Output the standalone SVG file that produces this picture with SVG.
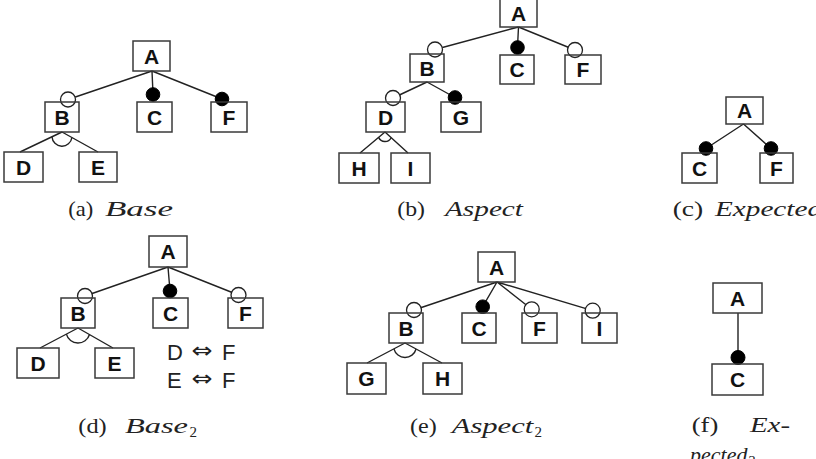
<svg xmlns="http://www.w3.org/2000/svg" width="816" height="459" viewBox="0 0 816 459">
<style>
.box{fill:none;stroke:#3a3a3a;stroke-width:1.5}
.lbl{font-family:"Liberation Sans",Arial,sans-serif;font-weight:bold;font-size:21px;text-anchor:middle;fill:#111}
.edge{stroke:#222;stroke-width:1.4;fill:none}
.opt{fill:#fff;stroke:#222;stroke-width:1.3}
.man{fill:#000;stroke:#000;stroke-width:1}
.cap{font-family:"Liberation Serif","Times New Roman",serif;font-size:22px;fill:#222}
.it{font-style:italic}
.sub{font-size:15px}
.cst{font-family:"Liberation Sans","DejaVu Sans",sans-serif;font-size:22px;fill:#222}
.arr{font-family:"DejaVu Sans",sans-serif;font-size:22px;fill:#222}
</style>
<rect x="0" y="0" width="816" height="459" fill="#fff"/>

<g id="connectors">
  <!-- (a) -->
  <path class="edge" d="M152,71 L68,99.5 M152,71 L153,94 M152,71 L222,99 M62,132 L20,152 M62,132 L98,152"/>
  <path class="edge" d="M52,136.75 A10,10 0 0 0 71.9,137.5"/>
  <circle class="opt" cx="68" cy="99.5" r="7.5"/>
  <circle class="man" cx="153" cy="94.5" r="6.8"/>
  <circle class="man" cx="222" cy="99" r="6.8"/>
  <!-- (b) -->
  <path class="edge" d="M518.5,27 L435,49.5 M518.5,27 L517.5,47 M518.5,27 L575,50 M427,82 L393,98 M427,82 L455,97.5 M385,132 L360,153 M385,132 L408,153"/>
  <path class="edge" d="M378.6,137.4 A7,7 0 0 0 391.2,137.7"/>
  <circle class="opt" cx="435" cy="49.5" r="7.5"/>
  <circle class="man" cx="517.5" cy="47.5" r="6.8"/>
  <circle class="opt" cx="575" cy="50" r="7.5"/>
  <circle class="opt" cx="393" cy="98" r="7.5"/>
  <circle class="man" cx="455" cy="97.5" r="6.8"/>
  <!-- (c) -->
  <path class="edge" d="M743.5,124 L706,148.5 M743.5,124 L771,148.5"/>
  <circle class="man" cx="706" cy="148.5" r="6.8"/>
  <circle class="man" cx="771" cy="148.5" r="6.8"/>
  <!-- (d) -->
  <path class="edge" d="M168,267 L85,296 M168,267 L170,291 M168,267 L238.5,295 M78,328 L40,348 M78,328 L113,348"/>
  <path class="edge" d="M66.4,334.1 A12,12 0 0 0 89.5,334.5"/>
  <circle class="opt" cx="85" cy="296" r="7.5"/>
  <circle class="man" cx="170" cy="291" r="6.8"/>
  <circle class="opt" cx="238.5" cy="295" r="7.5"/>
  <!-- (e) -->
  <path class="edge" d="M497,282 L414,310 M497,282 L482.7,306.7 M497,282 L531.7,309.3 M497,282 L592.7,310.7 M405,343 L367,363 M405,343 L442,363"/>
  <path class="edge" d="M393.9,348.9 A11.5,11.5 0 0 0 416.1,349"/>
  <circle class="opt" cx="414" cy="310" r="7.5"/>
  <circle class="man" cx="482.7" cy="306.7" r="6.8"/>
  <circle class="opt" cx="531.7" cy="309.3" r="7.5"/>
  <circle class="opt" cx="592.7" cy="310.7" r="7.5"/>
  <!-- (f) -->
  <path class="edge" d="M738,313 L738,357"/>
  <circle class="man" cx="738" cy="357.5" r="7"/>
</g>

<!-- (a) Base -->
<g id="a-A"><rect class="box" x="133" y="41" width="37" height="30"/><text class="lbl" x="151.5" y="63.5">A</text></g>
<g id="a-B"><rect class="box" x="45" y="102" width="34" height="30"/><text class="lbl" x="62" y="124.5">B</text></g>
<g id="a-C"><rect class="box" x="137" y="102" width="35" height="30"/><text class="lbl" x="154.5" y="124.5">C</text></g>
<g id="a-F"><rect class="box" x="211" y="102" width="36" height="30"/><text class="lbl" x="229" y="124.5">F</text></g>
<g id="a-D"><rect class="box" x="4" y="152" width="39" height="30"/><text class="lbl" x="23.5" y="174.5">D</text></g>
<g id="a-E"><rect class="box" x="79" y="152" width="38" height="30"/><text class="lbl" x="98" y="174.5">E</text></g>

<!-- (b) Aspect -->
<g id="b-A"><rect class="box" x="500" y="-1" width="37" height="28"/><text class="lbl" x="518.5" y="20.5">A</text></g>
<g id="b-B"><rect class="box" x="410" y="54" width="34" height="28"/><text class="lbl" x="427" y="75.5">B</text></g>
<g id="b-C"><rect class="box" x="500" y="55" width="34" height="29"/><text class="lbl" x="517" y="77">C</text></g>
<g id="b-F"><rect class="box" x="565" y="55" width="36" height="29"/><text class="lbl" x="583" y="77">F</text></g>
<g id="b-D"><rect class="box" x="366" y="102" width="39" height="30"/><text class="lbl" x="385.5" y="124.5">D</text></g>
<g id="b-G"><rect class="box" x="441" y="102" width="40" height="30"/><text class="lbl" x="461" y="124.5">G</text></g>
<g id="b-H"><rect class="box" x="339" y="153" width="40" height="30"/><text class="lbl" x="359" y="175.5">H</text></g>
<g id="b-I"><rect class="box" x="391" y="153" width="39" height="30"/><text class="lbl" x="410.5" y="175.5">I</text></g>

<!-- (c) Expected -->
<g id="c-A"><rect class="box" x="726" y="97" width="37" height="27"/><text class="lbl" x="744.5" y="118">A</text></g>
<g id="c-C"><rect class="box" x="682" y="153" width="35" height="30"/><text class="lbl" x="699.5" y="175.5">C</text></g>
<g id="c-F"><rect class="box" x="760" y="153" width="33" height="30"/><text class="lbl" x="776.5" y="175.5">F</text></g>

<!-- (d) Base2 -->
<g id="d-A"><rect class="box" x="149" y="236" width="38" height="31"/><text class="lbl" x="168" y="259">A</text></g>
<g id="d-B"><rect class="box" x="61" y="298" width="34" height="30"/><text class="lbl" x="78" y="320.5">B</text></g>
<g id="d-C"><rect class="box" x="153" y="298" width="35" height="30"/><text class="lbl" x="170.5" y="320.5">C</text></g>
<g id="d-F"><rect class="box" x="228" y="298" width="35" height="30"/><text class="lbl" x="245.5" y="320.5">F</text></g>
<g id="d-D"><rect class="box" x="17" y="348" width="42" height="30"/><text class="lbl" x="38" y="370.5">D</text></g>
<g id="d-E"><rect class="box" x="95" y="348" width="39" height="30"/><text class="lbl" x="114.5" y="370.5">E</text></g>
<g id="d-constraints">
  <text class="cst" x="167" y="360">D</text>
  <text class="arr" x="191.5" y="358" textLength="21" lengthAdjust="spacingAndGlyphs">⇔</text>
  <text class="cst" x="222" y="360">F</text>
  <text class="cst" x="167" y="388">E</text>
  <text class="arr" x="191.5" y="386" textLength="21" lengthAdjust="spacingAndGlyphs">⇔</text>
  <text class="cst" x="222" y="388">F</text>
</g>

<!-- (e) Aspect2 -->
<g id="e-A"><rect class="box" x="478" y="252" width="37" height="30"/><text class="lbl" x="496.5" y="274.5">A</text></g>
<g id="e-B"><rect class="box" x="389" y="313" width="34" height="30"/><text class="lbl" x="406" y="335.5">B</text></g>
<g id="e-C"><rect class="box" x="462" y="313" width="34" height="30"/><text class="lbl" x="479" y="335.5">C</text></g>
<g id="e-F"><rect class="box" x="522" y="313" width="35" height="30"/><text class="lbl" x="539.5" y="335.5">F</text></g>
<g id="e-I"><rect class="box" x="582" y="313" width="35" height="30"/><text class="lbl" x="599.5" y="335.5">I</text></g>
<g id="e-G"><rect class="box" x="347" y="363" width="39" height="31"/><text class="lbl" x="366.5" y="386">G</text></g>
<g id="e-H"><rect class="box" x="423" y="363" width="39" height="31"/><text class="lbl" x="442.5" y="386">H</text></g>

<!-- (f) Expected2 -->
<g id="f-A"><rect class="box" x="713" y="283" width="49" height="30"/><text class="lbl" x="737.5" y="305.5">A</text></g>
<g id="f-C"><rect class="box" x="712" y="364" width="51" height="31"/><text class="lbl" x="737.5" y="387">C</text></g>

<g id="captions">
  <text class="cap" x="68.3" y="216" textLength="25" lengthAdjust="spacingAndGlyphs">(a)</text>
  <text class="cap it" x="105" y="216" textLength="68" lengthAdjust="spacingAndGlyphs">Base</text>
  <text class="cap" x="397.3" y="216" textLength="27.7" lengthAdjust="spacingAndGlyphs">(b)</text>
  <text class="cap it" x="445" y="216" textLength="78" lengthAdjust="spacingAndGlyphs">Aspect</text>
  <text class="cap" x="672.7" y="216" textLength="30.6" lengthAdjust="spacingAndGlyphs">(c)</text>
  <text class="cap it" x="715" y="216" textLength="107" lengthAdjust="spacingAndGlyphs">Expected</text>
  <text class="cap" x="78.3" y="433" textLength="28.4" lengthAdjust="spacingAndGlyphs">(d)</text>
  <text class="cap it" x="125" y="433" textLength="63" lengthAdjust="spacingAndGlyphs">Base</text>
  <text class="cap sub" x="189.5" y="437">2</text>
  <text class="cap" x="410" y="433" textLength="26.7" lengthAdjust="spacingAndGlyphs">(e)</text>
  <text class="cap it" x="451.7" y="433" textLength="81.6" lengthAdjust="spacingAndGlyphs">Aspect</text>
  <text class="cap sub" x="534.5" y="437">2</text>
  <text class="cap" x="691.7" y="432" textLength="26.6" lengthAdjust="spacingAndGlyphs">(f)</text>
  <text class="cap it" x="750" y="432" textLength="40" lengthAdjust="spacingAndGlyphs">Ex-</text>
  <text class="cap it" x="690" y="462">pected<tspan class="sub" dy="4">2</tspan></text>
</g>
</svg>
